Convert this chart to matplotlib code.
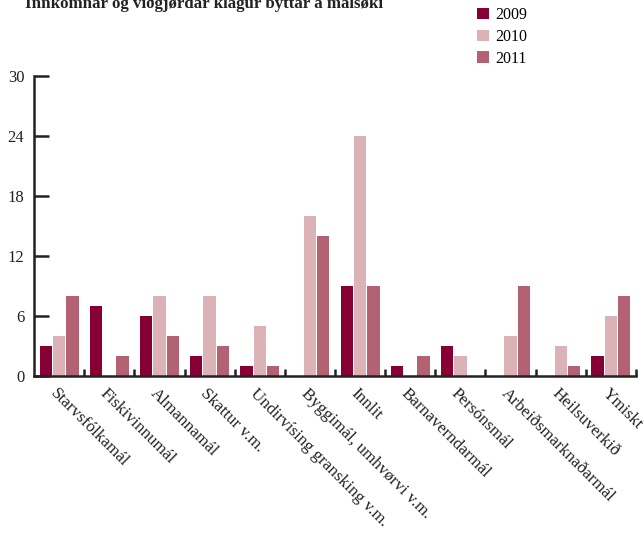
import matplotlib
matplotlib.use("Agg")
import matplotlib.pyplot as plt
import numpy as np

plt.rcParams["font.family"] = ["Liberation Serif", "DejaVu Serif"]

categories = ["Starvsfólkamál", "Fiskivinnumál", "Almannamál", "Skattur v.m.",
              "Undirvísing gransking v.m.", "Byggimál, umhvørvi v.m.", "Innlit",
              "Barnaverndarmál", "Persónsmál", "Arbeiðsmarknaðarmál",
              "Heilsuverkið", "Ymiskt"]
years = ["2009", "2010", "2011"]
v2009 = [3, 7, 6, 2, 1, 0, 9, 1, 3, 0, 0, 2]
v2010 = [4, 0, 8, 8, 5, 16, 24, 0, 2, 4, 3, 6]
v2011 = [8, 2, 4, 3, 1, 14, 9, 2, 0, 9, 1, 8]
yticks = [0, 6, 12, 18, 24, 30]
title = "Innkomnar og viðgjørdar klagur býttar á málsøki"

colors = ["#870035", "#dbb3b7", "#b26272"]

fig = plt.figure(figsize=(6.44, 5.42), dpi=100)
ax = fig.add_axes([34 / 644, 1 - 376 / 542, 602 / 644, 300 / 542])

x = np.arange(len(categories))
w = 0.265
for i, (vals, c, lab) in enumerate(zip([v2009, v2010, v2011], colors, years)):
    ax.bar(x + (i - 1) * w, vals, width=w - 0.02, color=c, label=lab)

ax.set_xlim(-0.5, len(categories) - 0.5)
ax.set_ylim(0, 30)
ax.set_yticks(yticks)
ax.tick_params(axis="y", direction="in", length=11, width=1.8, color="#222222",
               labelsize=12, pad=7, labelcolor="#222222")
ax.set_xticks(x + 0.5, minor=False)
ax.set_xticklabels([])
ax.tick_params(axis="x", direction="in", length=5, width=1.8, color="#222222")

for xi, lab in zip(x, categories):
    ax.text(xi - 0.02, -1.0, lab, rotation=-45, rotation_mode="anchor",
            ha="left", va="top", fontsize=12.3, color="#222222")

for s in ["top", "right"]:
    ax.spines[s].set_visible(False)
for s in ["left", "bottom"]:
    ax.spines[s].set_linewidth(1.8)
    ax.spines[s].set_color("#222222")

fig.text(25 / 644, 1 - 8 / 542, title, fontsize=12.2, fontweight="bold",
         va="baseline", ha="left", color="#222222")

ax.legend(loc="upper left", bbox_to_anchor=(471 / 644, 1 - 1 / 542),
          bbox_transform=fig.transFigure, frameon=False, fontsize=11.5,
          handlelength=0.7, handleheight=0.7, handletextpad=0.4,
          labelspacing=0.35, borderaxespad=0)

fig.savefig("out.png", dpi=100)
